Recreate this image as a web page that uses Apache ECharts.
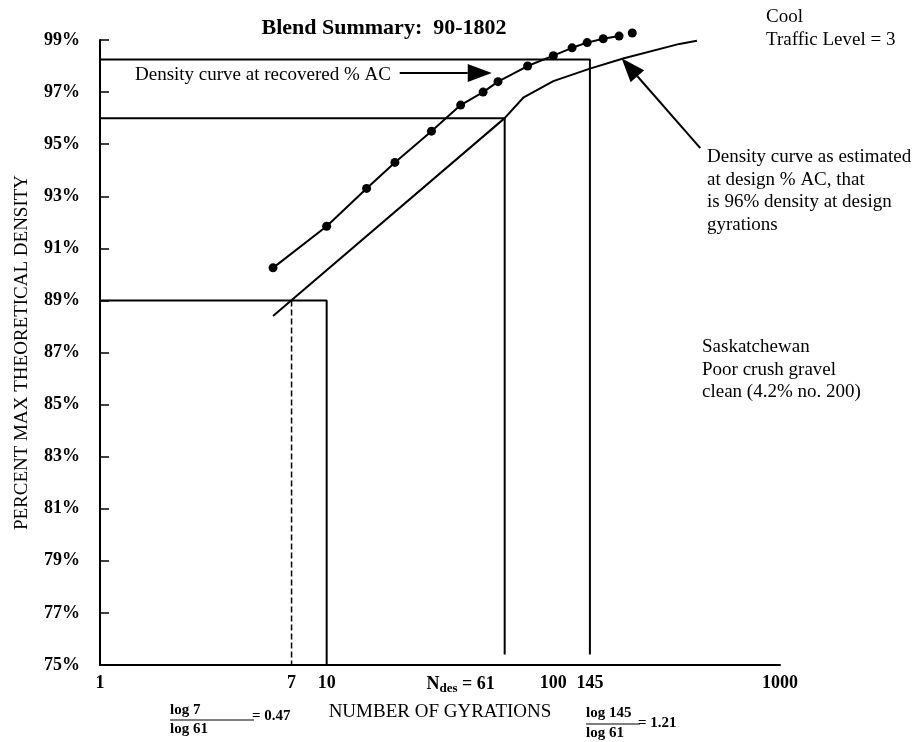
<!DOCTYPE html>
<html>
<head>
<meta charset="utf-8">
<script src="https://cdn.jsdelivr.net/npm/echarts@6/dist/echarts.min.js"></script>
<style>
  html, body { margin: 0; padding: 0; background: #ffffff; }
  #chart { width: 920px; height: 742px; }
</style>
</head>
<body>
<div id="chart"></div>
<script>
// Density curve at recovered % AC (measured points, joined)
const gyrations = [5.8, 10, 15, 20, 29, 39, 49, 57, 77, 100, 121, 141, 166, 195];
const densityRecovered = [90.25, 91.85, 93.3, 94.3, 95.5, 96.5, 97.0, 97.4, 98.0, 98.4, 98.7, 98.9, 99.05, 99.15];
// final measured point, drawn without a joining segment
const lastGyrations = [223];
const lastDensity = [99.27];

// Density curve as estimated at design % AC
const designGyrations = [5.8, 61, 74, 100, 145, 205, 360, 430];
const designDensity = [88.4, 96.0, 96.8, 97.42, 97.9, 98.3, 98.85, 98.97];

// Reference gyration levels and densities
const nInitialEst = 7;      // dashed drop line
const nInitial = 10;
const nDesign = 61;
const nMax = 145;
const pctInitial = 89;
const pctDesign = 96;
const pctMax = 98.25;

// Axis ticks
const yTicks = [75, 77, 79, 81, 83, 85, 87, 89, 91, 93, 95, 97, 99];
const xTicks = [1, 7, 10, 61, 100, 145, 1000];

const SERIF = "'Liberation Serif', 'Times New Roman', serif";
const INK = '#000000';

const zip = (xs, ys) => xs.map((x, i) => [x, ys[i]]);

const chart = echarts.init(document.getElementById('chart'), null, { renderer: 'canvas' });

const guide = (name, data, extra) => Object.assign({
  name, type: 'line', data, symbol: 'none', silent: true, clip: false,
  lineStyle: { color: INK, width: 2 }, z: 2
}, extra || {});

const option = {
  backgroundColor: '#ffffff',
  animation: false,
  grid: { left: 100, right: 140, top: 40, bottom: 77, containLabel: false },
  xAxis: {
    type: 'log',
    logBase: 10,
    min: 1,
    max: 1000,
    name: 'NUMBER OF GYRATIONS',
    nameLocation: 'middle',
    nameGap: 38,
    nameTextStyle: { fontFamily: SERIF, fontSize: 19, color: INK },
    axisLine: { show: true, lineStyle: { color: INK, width: 2 } },
    axisTick: { show: false },
    splitLine: { show: false },
    minorTick: { show: false },
    axisLabel: {
      customValues: xTicks,
      margin: 9,
      color: INK,
      fontFamily: SERIF,
      fontSize: 18,
      fontWeight: 'bold',
      formatter: function (v) {
        if (Math.abs(v - nDesign) < 0.5) {
          return '{n|N}{s|des}{n| = ' + nDesign + '}{sp|}';
        }
        return String(Math.round(v));
      },
      rich: {
        n: { fontFamily: SERIF, fontSize: 18, fontWeight: 'bold', color: INK },
        s: { fontFamily: SERIF, fontSize: 13, fontWeight: 'bold', color: INK, verticalAlign: 'bottom', padding: [8, 0, 0, 0] },
        sp: { width: 88 }
      }
    }
  },
  yAxis: {
    type: 'value',
    min: 75,
    max: 99,
    name: 'PERCENT MAX THEORETICAL DENSITY',
    nameLocation: 'middle',
    nameGap: 68,
    nameTextStyle: { fontFamily: SERIF, fontSize: 19, color: INK },
    axisLine: { show: true, lineStyle: { color: INK, width: 2 } },
    axisTick: { show: true, inside: true, length: 9, customValues: yTicks, lineStyle: { color: INK, width: 1.5 } },
    splitLine: { show: false },
    axisLabel: {
      customValues: yTicks,
      margin: 20,
      color: INK,
      fontFamily: SERIF,
      fontSize: 18,
      fontWeight: 'bold',
      formatter: '{value}%'
    }
  },
  series: [
    guide('initial', [[1, pctInitial], [nInitial, pctInitial], [nInitial, 75]]),
    guide('initialEst', [[nInitialEst, pctInitial], [nInitialEst, 75]], {
      lineStyle: { color: INK, width: 1.5, type: [6, 3] }
    }),
    guide('design', [[1, pctDesign], [nDesign, pctDesign], [nDesign, 75.4]]),
    guide('max', [[1, pctMax], [nMax, pctMax], [nMax, 75.4]]),
    {
      name: 'Design % AC',
      type: 'line',
      data: zip(designGyrations, designDensity),
      symbol: 'none',
      clip: false,
      lineStyle: { color: INK, width: 2 },
      z: 3
    },
    {
      name: 'Recovered % AC',
      type: 'line',
      data: zip(gyrations, densityRecovered),
      symbol: 'circle',
      symbolSize: 9,
      clip: false,
      lineStyle: { color: INK, width: 2 },
      itemStyle: { color: INK, opacity: 1 },
      z: 4
    },
    {
      name: 'Recovered % AC (last)',
      type: 'scatter',
      data: zip(lastGyrations, lastDensity),
      symbol: 'circle',
      symbolSize: 9,
      clip: false,
      itemStyle: { color: INK, opacity: 1 },
      z: 4
    }
  ]
};

chart.setOption(option);

// Text notes and arrows
function arrow(id, from, to) {
  const a = chart.convertToPixel({ gridIndex: 0 }, from);
  const b = chart.convertToPixel({ gridIndex: 0 }, to);
  const dx = b[0] - a[0], dy = b[1] - a[1];
  const len = Math.sqrt(dx * dx + dy * dy);
  const ux = dx / len, uy = dy / len;
  const headLen = 24, headHalf = 9;
  const bx = b[0] - ux * headLen, by = b[1] - uy * headLen;
  return [
    { type: 'line', id: id + '-shaft', silent: true,
      shape: { x1: a[0], y1: a[1], x2: bx, y2: by },
      style: { stroke: INK, lineWidth: 2 } },
    { type: 'polygon', id: id + '-head', silent: true,
      shape: { points: [[b[0], b[1]], [bx - uy * headHalf, by + ux * headHalf], [bx + uy * headHalf, by - ux * headHalf]] },
      style: { fill: INK } }
  ];
}

function text(id, x, y, str, opts) {
  return {
    type: 'text', id, x, y, silent: true,
    style: Object.assign({
      text: str, fill: INK, font: '19px ' + SERIF,
      align: 'left', verticalAlign: 'middle', lineHeight: 22.5
    }, opts || {})
  };
}

const graphics = [].concat(
  [
    text('title', 384, 28, 'Blend Summary:  90-1802', { font: 'bold 22px ' + SERIF, align: 'center' }),
    text('cool', 766, 6, 'Cool\nTraffic Level = 3', { verticalAlign: 'top' }),
    text('recovered-note', 135, 75, 'Density curve at recovered % AC'),
    text('design-note', 707, 146, 'Density curve as estimated\nat design % AC, that\nis 96% density at design\ngyrations', { verticalAlign: 'top' }),
    text('material-note', 702, 336, 'Saskatchewan\nPoor crush gravel\nclean (4.2% no. 200)', { verticalAlign: 'top' }),
    // log ratio notes under the axis
    text('r1-num', 170, 710, 'log 7', { font: 'bold 15px ' + SERIF }),
    text('r1-den', 170, 729, 'log 61', { font: 'bold 15px ' + SERIF }),
    { type: 'line', id: 'r1-bar', silent: true, shape: { x1: 170, y1: 720, x2: 254, y2: 720 }, style: { stroke: INK, lineWidth: 1 } },
    text('r1-val', 252, 716, '= 0.47', { font: 'bold 15px ' + SERIF }),
    text('r2-num', 586, 713, 'log 145', { font: 'bold 15px ' + SERIF }),
    text('r2-den', 586, 733, 'log 61', { font: 'bold 15px ' + SERIF }),
    { type: 'line', id: 'r2-bar', silent: true, shape: { x1: 586, y1: 724, x2: 640, y2: 724 }, style: { stroke: INK, lineWidth: 1 } },
    text('r2-val', 638, 723, '= 1.21', { font: 'bold 15px ' + SERIF })
  ],
  arrow('arrow-recovered', [21, 97.73], [53.5, 97.73]),
  arrow('arrow-design', [445, 94.85], [200, 98.3])
);

chart.setOption({ graphic: graphics });
</script>
</body>
</html>
